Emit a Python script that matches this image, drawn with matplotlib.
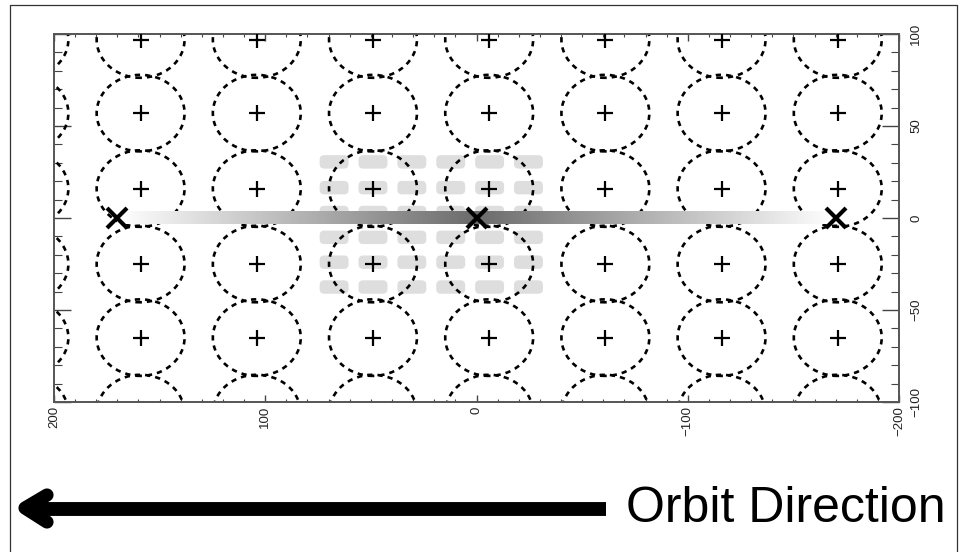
import numpy as np
import matplotlib
matplotlib.use("Agg")
import matplotlib.pyplot as plt
from matplotlib.patches import Circle, FancyBboxPatch
from matplotlib.ticker import MultipleLocator

# beam centres (dashed circles with + at the centre)
beam_x = [214, 159, 104, 49, -6, -61, -116, -171]
beam_y = [97, 57, 16, -25, -65, -106]
beam_radius = 20.8

# grey detector pixels
pixel_x = [67.4, 49.0, 30.6, 12.2, -6.2, -24.6]
pixel_y = [30.5, 16.5, 3.0, -10.5, -24.0, -37.5]
pixel_w = 13.7
pixel_h = 7.3

# scan track and its turning points
track_x = [170, 0, -170]
track_y = [0, 0, 0]
track_shade = [1.0, 0.42, 1.0]   # grey level at the ends and in the middle
track_half = 3.5

xticks = [200, 100, 0, -100, -200]
yticks = [100, 50, 0, -50, -100]

plt.rcParams["font.family"] = ["Liberation Sans", "DejaVu Sans"]

fig = plt.figure(figsize=(9.64, 5.52), dpi=100)

# overlay in pixel units for the frame, arrow and caption
ov = fig.add_axes([0, 0, 1, 1])
ov.set_xlim(0, 964)
ov.set_ylim(552, 0)
ov.axis("off")
ov.plot([10, 10, 957, 957], [552, 5, 5, 552], color="#333333", lw=0.9)
ov.plot([36, 606], [509, 509], color="black", lw=10, solid_capstyle="butt")
ov.plot([47, 25, 47], [495, 508, 522], color="black", lw=9.5,
        solid_joinstyle="round", solid_capstyle="round")
ov.text(626, 522, "Orbit Direction", fontsize=36, va="baseline", ha="left")

ax = fig.add_axes([0.056, 0.2717, 0.8766, 0.6667])

# pixels
for px in pixel_x:
    for py in pixel_y:
        ax.add_patch(FancyBboxPatch((px - pixel_w / 2, py - pixel_h / 2),
                                    pixel_w, pixel_h,
                                    boxstyle="round,pad=0,rounding_size=2.2",
                                    mutation_aspect=1.15,
                                    fc="#dedede", ec="none", zorder=1))

# beams
for bx in beam_x:
    for by in beam_y:
        ax.add_patch(Circle((bx, by), beam_radius, fill=False, ec="black",
                            lw=1.9, ls=(0, (2.0, 1.9)), zorder=2))
bx, by = np.meshgrid(beam_x, beam_y)
ax.plot(bx.ravel(), by.ravel(), "+", color="black", ms=11, mew=1.6, zorder=4)

# shaded track
xs = np.linspace(track_x[0], track_x[-1], 400)
shade = np.interp(xs, track_x[::-1], track_shade[::-1])
ax.imshow(shade[np.newaxis, :], cmap="gray", vmin=0, vmax=1, aspect="auto",
          extent=[track_x[0], track_x[-1], -track_half, track_half],
          interpolation="bilinear", zorder=3)
ax.plot(track_x, track_y, "x", color="black", ms=15, mew=3, zorder=5)

ax.set_xlim(200, -200)
ax.set_ylim(-100, 100)
ax.set_xticks(xticks)
ax.set_yticks(yticks)
ax.xaxis.set_minor_locator(MultipleLocator(10))
ax.yaxis.set_minor_locator(MultipleLocator(10))
ax.tick_params(which="both", direction="in", top=True, right=True,
               labelleft=False, labelright=True, color="#444444",
               labelsize=9.5, labelcolor="#222222")
ax.tick_params(axis="x", which="major", length=5, width=1, pad=3,
               labelrotation=90)
ax.tick_params(axis="x", which="minor", length=2.5, width=0.8)
ax.tick_params(axis="y", which="major", length=12, width=1, pad=8,
               labelrotation=90)
ax.tick_params(axis="y", which="minor", length=6, width=0.8)
for lab in ax.get_yticklabels():
    lab.set_verticalalignment("center")
for sp in ax.spines.values():
    sp.set_color("#555555")
    sp.set_linewidth(1.4)

fig.savefig("out.png", dpi=100)
